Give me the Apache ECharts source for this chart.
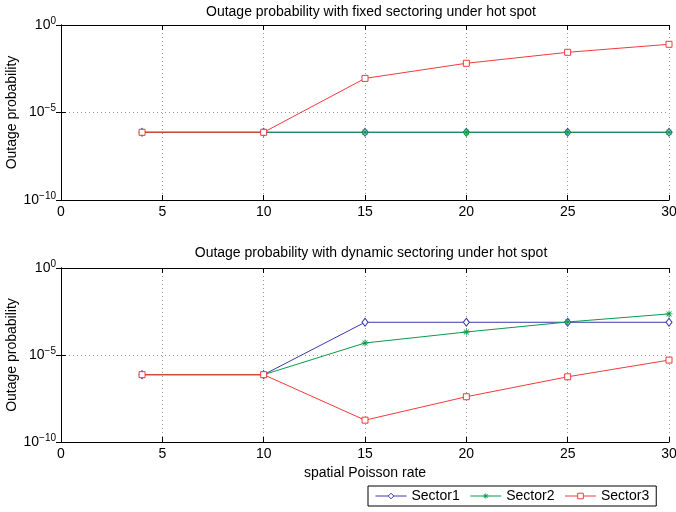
<!DOCTYPE html>
<html>
<head>
<meta charset="utf-8">
<script src="https://cdn.jsdelivr.net/npm/echarts@6/dist/echarts.min.js"></script>
<style>
  html, body { margin: 0; padding: 0; background: #fff; }
  #chart { width: 676px; height: 512px; }
</style>
</head>
<body>
<div id="chart"></div>
<script>
// spatial Poisson rate
const rates = [4, 10, 15, 20, 25, 30];

// fixed sectoring
const fixedSector1 = [7.4e-7, 7.4e-7, 7.4e-7, 7.4e-7, 7.4e-7, 7.4e-7];
const fixedSector2 = [7.4e-7, 7.4e-7, 7.4e-7, 7.4e-7, 7.4e-7, 7.4e-7];
const fixedSector3 = [7.4e-7, 7.4e-7, 8.9e-4, 6.5e-3, 2.75e-2, 7.9e-2];

// dynamic sectoring
const dynSector1 = [7.4e-7, 7.4e-7, 7.6e-4, 7.6e-4, 7.6e-4, 7.6e-4];
const dynSector2 = [7.4e-7, 7.4e-7, 4.9e-5, 2.1e-4, 7.9e-4, 2.3e-3];
const dynSector3 = [7.4e-7, 7.4e-7, 1.8e-9, 4.0e-8, 5.6e-7, 5.1e-6];

const sectorNames = ['Sector1', 'Sector2', 'Sector3'];
const titles = [
  'Outage probability with fixed sectoring under hot spot',
  'Outage probability with dynamic sectoring under hot spot'
];

const font = 'Liberation Sans, Arial, Helvetica, sans-serif';
const blue = '#3a3aae';
const green = '#0b9a48';
const red = '#f23a3a';
const asterisk = 'path://M-0.6,-5h1.2v10h-1.2z M-5,-0.6h10v1.2h-10z M-3.9,-3.1L-3.1,-3.9L3.9,3.1L3.1,3.9z M3.1,-3.9L3.9,-3.1L-3.1,3.9L-3.9,3.1z';

function pairs(ys) {
  return rates.map((x, i) => [x, ys[i]]);
}

function supLabel(v) {
  const e = Math.round(Math.log10(v));
  return '{b|10}{s|' + (e === 0 ? '0' : '\u2212' + Math.abs(e)) + '}';
}

const grids = [
  { left: 61, right: 7, top: 25, height: 175, outerBoundsMode: 'none' },
  { left: 61, right: 7, top: 268, height: 174, outerBoundsMode: 'none' }
];

const xAxes = [];
const yAxes = [];
grids.forEach((g, i) => {
  xAxes.push({
    type: 'value', gridIndex: i, min: 0, max: 30, interval: 5,
    name: i === 1 ? 'spatial Poisson rate' : '',
    nameLocation: 'middle', nameGap: 24, nameMoveOverlap: false,
    nameTextStyle: { fontFamily: font, fontSize: 14, color: '#000' },
    axisLine: { lineStyle: { color: '#000', width: 1 } },
    axisTick: { inside: true, length: 5, lineStyle: { color: '#000' } },
    axisLabel: { fontFamily: font, fontSize: 14, color: '#000', margin: 5 },
    splitLine: { show: true, lineStyle: { color: '#999', type: [1, 3] } }
  });
  xAxes.push({
    type: 'value', gridIndex: i, min: 0, max: 30, interval: 5, position: 'top',
    axisLine: { lineStyle: { color: '#000', width: 1 } },
    axisTick: { inside: true, length: 5, lineStyle: { color: '#000' } },
    axisLabel: { show: false },
    splitLine: { show: false }
  });
  yAxes.push({
    type: 'log', logBase: 10, gridIndex: i, min: 1e-10, max: 1, interval: 5,
    name: 'Outage probability', nameLocation: 'middle', nameGap: 42, nameMoveOverlap: false,
    nameTextStyle: { fontFamily: font, fontSize: 14, color: '#000' },
    axisLine: { show: true, lineStyle: { color: '#000', width: 1 } },
    axisTick: { show: true, inside: true, length: 5, lineStyle: { color: '#000' } },
    minorTick: { show: false },
    axisLabel: {
      fontFamily: font, color: '#000', margin: 5,
      formatter: supLabel,
      rich: {
        b: { fontFamily: font, fontSize: 14, color: '#000' },
        s: { fontFamily: font, fontSize: 10, color: '#000', padding: [0, 0, 8, 0] }
      }
    },
    splitLine: { show: true, lineStyle: { color: '#999', type: [1, 3] } }
  });
  yAxes.push({
    type: 'log', logBase: 10, gridIndex: i, min: 1e-10, max: 1, interval: 5, position: 'right',
    axisLine: { show: true, lineStyle: { color: '#000', width: 1 } },
    axisTick: { show: true, inside: true, length: 5, lineStyle: { color: '#000' } },
    axisLabel: { show: false },
    splitLine: { show: false }
  });
});

function makeSeries(name, ys, plot, color, symbol, size, filled) {
  return {
    name: name, type: 'line',
    xAxisIndex: plot * 2, yAxisIndex: plot * 2,
    data: pairs(ys),
    symbol: symbol, symbolSize: size, showSymbol: true,
    lineStyle: { color: color, width: 1 },
    itemStyle: { color: filled ? color : '#fff', borderColor: color, borderWidth: filled ? 0 : 1 },
    emphasis: { disabled: true },
    animation: false
  };
}

const series = [
  makeSeries(sectorNames[0], fixedSector1, 0, blue, 'diamond', [6, 8], false),
  makeSeries(sectorNames[1], fixedSector2, 0, green, asterisk, 7, true),
  makeSeries(sectorNames[2], fixedSector3, 0, red, 'rect', 6, false),
  makeSeries(sectorNames[0], dynSector1, 1, blue, 'diamond', [6, 8], false),
  makeSeries(sectorNames[1], dynSector2, 1, green, asterisk, 7, true),
  makeSeries(sectorNames[2], dynSector3, 1, red, 'rect', 6, false)
];

const chart = echarts.init(document.getElementById('chart'), null, { renderer: 'canvas' });
chart.setOption({
  backgroundColor: '#fff',
  animation: false,
  title: [
    { text: titles[0], left: 366, top: 0, textAlign: 'center',
      textStyle: { fontFamily: font, fontSize: 14, fontWeight: 'normal', color: '#000' } },
    { text: titles[1], left: 366, top: 241, textAlign: 'center',
      textStyle: { fontFamily: font, fontSize: 14, fontWeight: 'normal', color: '#000' } }
  ],
  grid: grids,
  xAxis: xAxes,
  yAxis: yAxes,
  legend: {
    data: [
      { name: sectorNames[0], itemStyle: { color: '#fff', borderColor: blue, borderWidth: 1 } },
      { name: sectorNames[1] },
      { name: sectorNames[2], itemStyle: { color: '#fff', borderColor: red, borderWidth: 1 } }
    ],
    left: 368, top: 486,
    itemWidth: 31, itemHeight: 7, itemGap: 10,
    padding: [3, 7, 3, 7],
    borderColor: '#000', borderWidth: 1,
    lineStyle: { width: 1 },
    textStyle: { fontFamily: font, fontSize: 14, color: '#000' }
  },
  series: series
});
</script>
</body>
</html>
